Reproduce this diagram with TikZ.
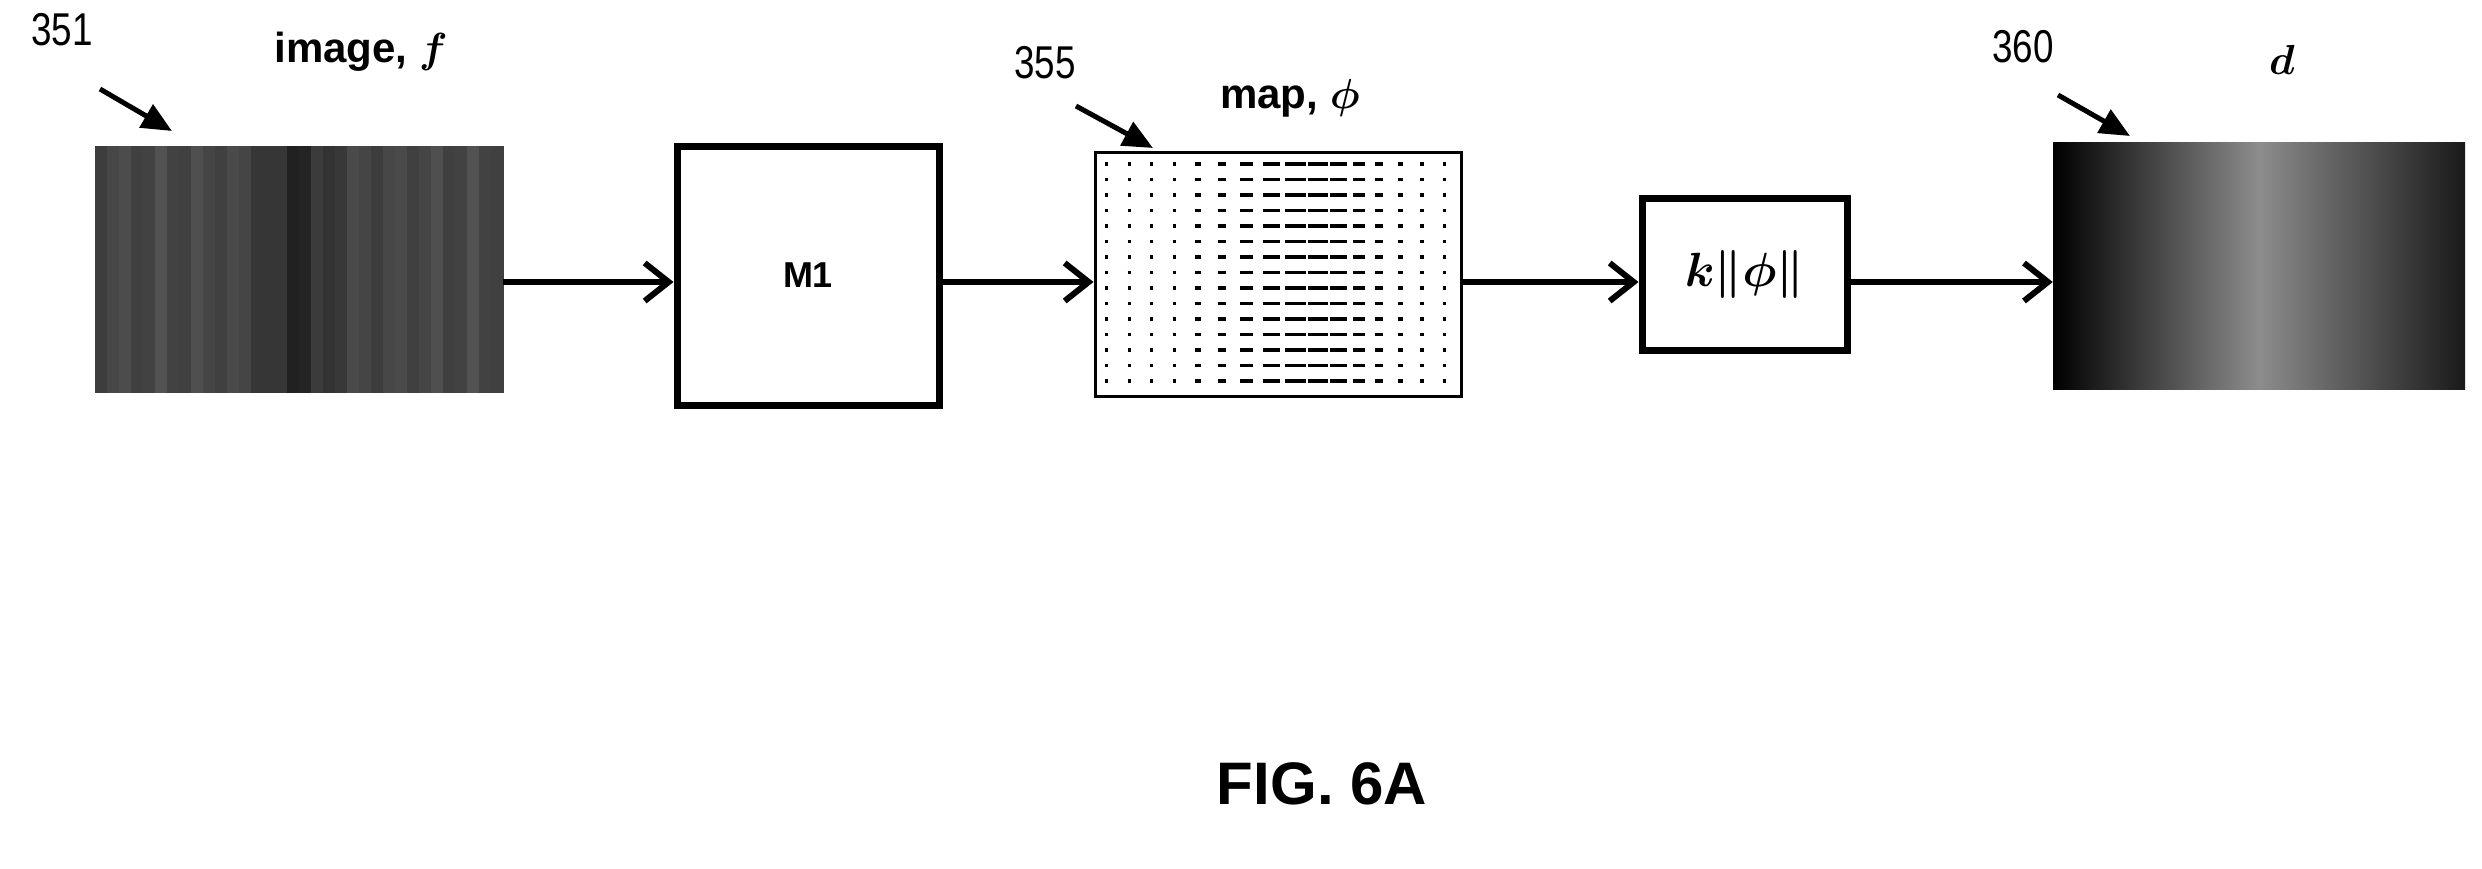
\documentclass[tikz,border=0pt]{standalone}
\usepackage{fix-cm}
\usepackage{amsmath,bm}
\usepackage{fontspec}
\setmainfont{Liberation Sans}
\usetikzlibrary{arrows.meta}
\begin{document}
\begin{tikzpicture}[x=1pt,y=-1pt,
  box/.style={draw,line width=7pt,inner sep=0pt},
  conn/.style={line width=6pt,-{Straight Barb[length=24pt,width=38pt,line width=6pt]}},
  lead/.style={line width=5pt,-{Triangle[length=30pt,width=26pt]}},
  num/.style={font=\fontsize{46}{46}\selectfont,xscale=0.8},
  lab/.style={font=\bfseries\fontsize{42}{42}\selectfont}]
\useasboundingbox (0,0) rectangle (2482,868);
% image f stripes
\foreach \i in {0,...,33}{
  \pgfmathsetmacro{\g}{int(68+8*abs(cos(\i*55))+12*exp(-((\i-16.5)/3)^2))}
  \fill[black!\g] (95+\i*12,146) rectangle (95+\i*12+12.5,393);
}
\node[inner sep=0pt,minimum width=408pt,minimum height=247pt] (img) at (299,269.5) {};
% M1
\node[box,minimum width=262pt,minimum height=259pt,font=\bfseries\fontsize{36}{36}\selectfont] (m1) at (808,275.5) {M1};
% map
\node[draw,line width=3pt,minimum width=366pt,minimum height=244pt,inner sep=0pt] (map) at (1278,274) {};
\foreach \r in {0,...,14}{
  \foreach \c in {0,...,15}{
    \pgfmathsetmacro{\L}{3+18*exp(-((\c-8.5)/3.2)^2)}
    \draw[line width=3.5pt] (1105+\c*22.5,164+\r*15.5) -- ++(\L,0);
  }
}
% k||phi||
\node[box,minimum width=205pt,minimum height=152pt,font=\fontsize{48}{48}\selectfont] (k) at (1744.5,274) {$\bm{k\|\phi\|}$};
% d
\shade[left color=black,right color=black!45] (2053,142) rectangle (2259,389);
\shade[left color=black!45,right color=black!90] (2259,142) rectangle (2465,389);
\node[inner sep=0pt,minimum width=412pt,minimum height=247pt] (d) at (2259,265.5) {};
% connectors
\draw[conn] (img.east |- 0,282) -- (m1.west |- 0,282);
\draw[conn] (m1.east |- 0,282) -- (map.west |- 0,282);
\draw[conn] (map.east |- 0,282) -- (k.west |- 0,282);
\draw[conn] (k.east |- 0,282) -- (d.west |- 0,282);
% labels
\node[num] (n351) at (62,30) {351};
\node[lab] at (361,52) {image, $\bm{f}$};
\node[num] (n355) at (1045,63) {355};
\node[lab] at (1290,98) {map, $\bm{\phi}$};
\node[num] (n360) at (2023,47) {360};
\node[lab] at (2282,60) {$\bm{d}$};
\coordinate (a1) at (100,89); \coordinate (b1) at (172,131);
\coordinate (a2) at (1076,106); \coordinate (b2) at (1153,148);
\coordinate (a3) at (2058,95); \coordinate (b3) at (2130,136);
\draw[lead] (a1) -- (b1);
\draw[lead] (a2) -- (b2);
\draw[lead] (a3) -- (b3);
\node[font=\bfseries\fontsize{60}{60}\selectfont] (fig) at (1322,784) {FIG. 6A};
\end{tikzpicture}
\end{document}
